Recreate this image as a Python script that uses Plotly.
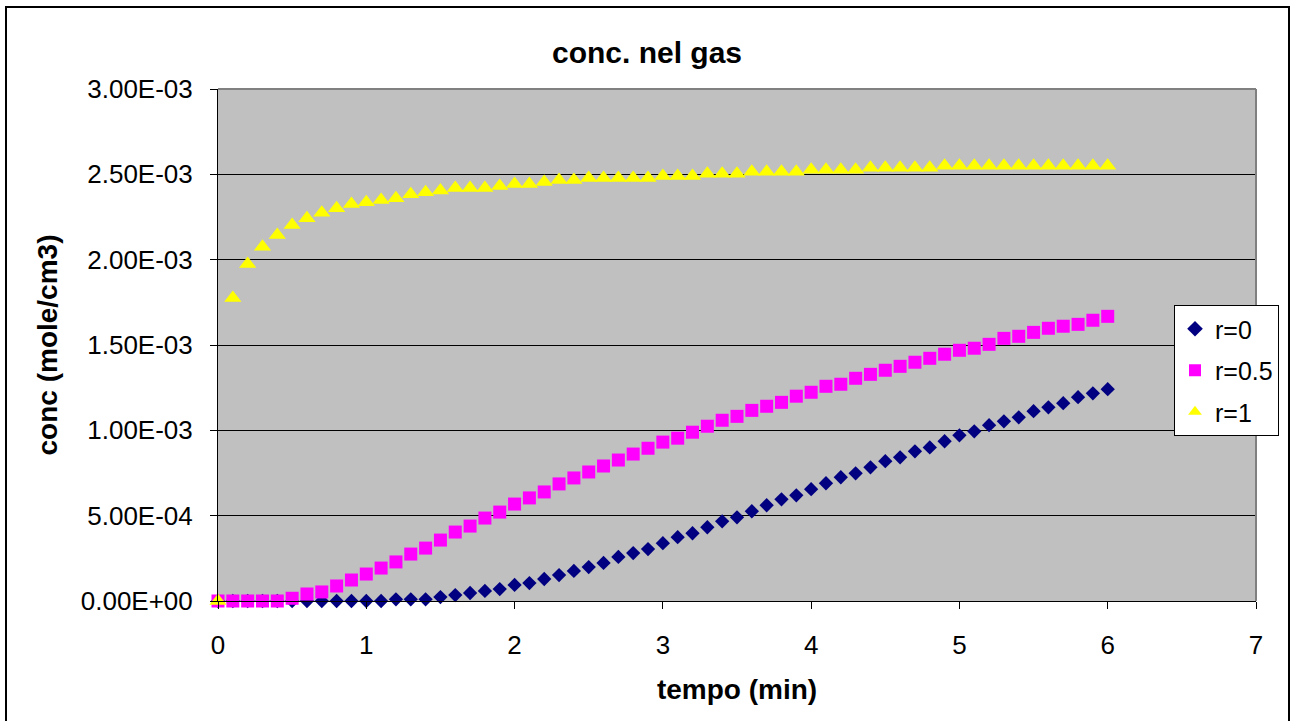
import plotly.graph_objects as go

# ---- data ----
tempo = [round(i * 0.1, 1) for i in range(61)]

r0 = [0, 0, 0, 0, 0, 0, 0, 0, 0, 0,
      0, 0, 1.0e-5, 1.0e-5, 1.0e-5, 2.3e-5, 3.5e-5, 4.7e-5, 5.9e-5, 7.0e-5,
      9.4e-5, 1.05e-4, 1.29e-4, 1.52e-4, 1.76e-4, 1.99e-4, 2.23e-4, 2.58e-4, 2.81e-4, 3.04e-4,
      3.39e-4, 3.74e-4, 3.97e-4, 4.32e-4, 4.67e-4, 4.90e-4, 5.26e-4, 5.61e-4, 5.96e-4, 6.19e-4,
      6.55e-4, 6.90e-4, 7.25e-4, 7.48e-4, 7.83e-4, 8.19e-4, 8.42e-4, 8.77e-4, 9.00e-4, 9.36e-4,
      9.71e-4, 9.94e-4, 1.030e-3, 1.053e-3, 1.076e-3, 1.112e-3, 1.135e-3, 1.159e-3, 1.194e-3, 1.217e-3,
      1.241e-3]

r05 = [0, 0, 0, 0, 0, 1.6e-5, 4.1e-5, 5.3e-5, 8.8e-5, 1.23e-4,
       1.58e-4, 1.93e-4, 2.29e-4, 2.75e-4, 3.10e-4, 3.57e-4, 4.04e-4, 4.39e-4, 4.86e-4, 5.21e-4,
       5.68e-4, 6.04e-4, 6.39e-4, 6.86e-4, 7.21e-4, 7.56e-4, 7.91e-4, 8.26e-4, 8.61e-4, 8.95e-4,
       9.31e-4, 9.54e-4, 9.89e-4, 1.024e-3, 1.059e-3, 1.082e-3, 1.117e-3, 1.141e-3, 1.164e-3, 1.200e-3,
       1.223e-3, 1.258e-3, 1.270e-3, 1.305e-3, 1.328e-3, 1.352e-3, 1.375e-3, 1.399e-3, 1.422e-3, 1.446e-3,
       1.469e-3, 1.481e-3, 1.504e-3, 1.539e-3, 1.551e-3, 1.574e-3, 1.598e-3, 1.610e-3, 1.621e-3, 1.645e-3,
       1.668e-3]

r1 = [0, 1.775e-3, 1.975e-3, 2.076e-3, 2.145e-3, 2.203e-3, 2.242e-3, 2.275e-3, 2.301e-3, 2.326e-3,
      2.336e-3, 2.350e-3, 2.360e-3, 2.383e-3, 2.395e-3, 2.406e-3, 2.420e-3, 2.420e-3, 2.420e-3, 2.432e-3,
      2.443e-3, 2.443e-3, 2.455e-3, 2.467e-3, 2.467e-3, 2.479e-3, 2.479e-3, 2.479e-3, 2.479e-3, 2.479e-3,
      2.490e-3, 2.490e-3, 2.490e-3, 2.503e-3, 2.503e-3, 2.503e-3, 2.515e-3, 2.515e-3, 2.515e-3, 2.515e-3,
      2.527e-3, 2.527e-3, 2.527e-3, 2.527e-3, 2.539e-3, 2.539e-3, 2.539e-3, 2.539e-3, 2.539e-3, 2.551e-3,
      2.551e-3, 2.551e-3, 2.551e-3, 2.551e-3, 2.551e-3, 2.551e-3, 2.551e-3, 2.551e-3, 2.551e-3, 2.551e-3,
      2.551e-3]

series_names = ["r=0", "r=0.5", "r=1"]

y_tickvals = [0, 5e-4, 1e-3, 1.5e-3, 2e-3, 2.5e-3, 3e-3]
y_ticktext = ["0.00E+00", "5.00E-04", "1.00E-03", "1.50E-03", "2.00E-03", "2.50E-03", "3.00E-03"]
x_tickvals = [0, 1, 2, 3, 4, 5, 6, 7]

FONT = "Liberation Sans, Arial, sans-serif"

fig = go.Figure()
fig.add_trace(go.Scatter(x=tempo, y=r0, mode="markers", name=series_names[0], legendgroup="a",
                         cliponaxis=False,
                         marker=dict(symbol="diamond", size=11, color="#000080", line=dict(width=0))))
fig.add_trace(go.Scatter(x=tempo, y=r05, mode="markers", name=series_names[1], legendgroup="b",
                         cliponaxis=False,
                         marker=dict(symbol="square", size=13, color="#FF00FF", line=dict(width=0))))
fig.add_trace(go.Scatter(x=tempo, y=r1, mode="markers", name=series_names[2], legendgroup="c",
                         cliponaxis=False,
                         marker=dict(symbol="triangle-up", size=15, color="#FFFF00", line=dict(width=0))))

# outer chart border and plot-area border
fig.add_shape(type="rect", xref="paper", yref="paper",
              x0=(6 - 218) / 1038, x1=(1289 - 218) / 1038,
              y0=(601 - 724) / 512, y1=(601 - 7) / 512,
              line=dict(color="black", width=2), fillcolor="rgba(0,0,0,0)", layer="above")
fig.add_shape(type="line", xref="paper", yref="paper", x0=0, x1=1, y0=1, y1=1,
              line=dict(color="#808080", width=2), layer="above")
fig.add_shape(type="line", xref="paper", yref="paper", x0=1, x1=1, y0=0, y1=1,
              line=dict(color="#808080", width=2), layer="above")

fig.update_layout(
    width=1294, height=721,
    margin=dict(l=218, r=38, t=89, b=120),
    paper_bgcolor="white",
    plot_bgcolor="#C0C0C0",
    font=dict(family=FONT, color="black", size=26),
    title=dict(text="<b>conc. nel gas</b>", x=0.5, xref="container", xanchor="center",
               y=1 - 52 / 721, yanchor="middle", font=dict(size=30, family=FONT)),
    showlegend=True,
    legend=dict(x=(1174 - 218) / 1038, y=(601 - 305) / 512, xanchor="left", yanchor="top",
                bgcolor="white", bordercolor="black", borderwidth=1,
                font=dict(size=25, family=FONT), tracegroupgap=6,
                itemsizing="constant"),
    xaxis=dict(range=[0, 7], tickvals=x_tickvals, showgrid=False, zeroline=False,
               showline=True, linecolor="black", linewidth=1,
               ticks="outside", ticklen=7, tickcolor="black",
               tickfont=dict(size=26), ticklabelstandoff=14,
               title=dict(text="<b>tempo (min)</b>", font=dict(size=28), standoff=20)),
    yaxis=dict(range=[0, 3e-3], tickvals=y_tickvals, ticktext=y_ticktext,
               showgrid=True, gridcolor="black", gridwidth=1, zeroline=False,
               showline=True, linecolor="black", linewidth=1,
               ticks="outside", ticklen=7, tickcolor="black",
               tickfont=dict(size=26), ticklabelstandoff=12,
               title=dict(text="<b>conc (mole/cm3)</b>", font=dict(size=28), standoff=14)),
)

fig.write_html("out.html")
